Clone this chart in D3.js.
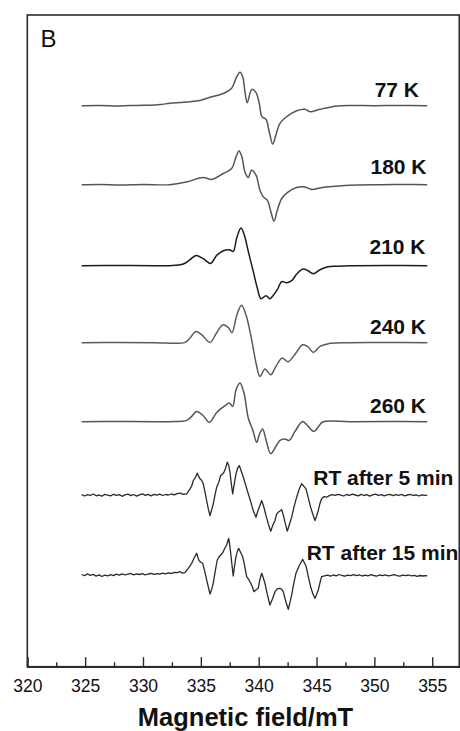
<!DOCTYPE html>
<html>
<head>
<meta charset="utf-8">
<script src="https://cdn.jsdelivr.net/npm/d3@7"></script>
<style>
body { margin: 0; background: #fff; }
text { font-family: "Liberation Sans", Arial, sans-serif; fill: #111; }
</style>
</head>
<body>
<script>
/**************************  data  **************************/

var traceNames = ["77 K", "180 K", "210 K", "240 K", "260 K", "RT after 5 min", "RT after 15 min"];
// vertical offset of each trace (a.u.)
var traceOffsets = [561, 482, 401, 324, 245, 171.5, 92];

var majorTicks = [320, 325, 330, 335, 340, 345, 350, 355];
var minorTicks = [322.5, 327.5, 332.5, 337.5, 342.5, 347.5, 352.5];

// [field (mT), signal (a.u.)]
var t77 = [[324.70, 0], [326.3, 0.2], [328.0, -0.2], [329.5, 0.3], [330.6, 0.5], [331.5, 1.2], [332.33, 2.4],
    [333.2, 3.2], [334.1, 4.0], [335.0, 5.5], [335.8, 8.4], [337.0, 12.4], [337.66, 17.4], [338.10, 29],
    [338.38, 33.4], [338.62, 29], [338.81, 14], [339.01, 3], [339.25, 12.4], [339.42, 16.4], [339.77, 13],
    [340.05, 2.4], [340.28, -11], [340.63, -13.6], [340.91, -26], [341.21, -38.3], [341.49, -29.3],
    [341.84, -17.6], [342.42, -11], [343.28, -5], [344.00, -3.6], [344.43, -6], [345.30, -3.6],
    [346.74, -0.3], [347.89, 0.3], [350.0, 0], [352.0, 0.2], [354.57, 0]];

var t180 = [[324.70, 0], [326.3, 0.3], [328.0, -0.2], [330.0, 0.3], [332.33, 0], [333.78, 2.8], [335.21, 7.2],
    [335.94, 5.2], [336.94, 11.2], [337.66, 16.2], [338.04, 27.8], [338.30, 33.8], [338.55, 27.8],
    [338.81, 12.8], [339.10, 7.2], [339.39, 14.5], [339.77, 9.5], [340.11, -5.5], [340.40, -12.2],
    [340.74, -15.5], [341.06, -27.2], [341.32, -36.5], [341.61, -25.5], [341.99, -13.8], [342.56, -7.2],
    [343.28, -2.8], [344.00, -2.2], [344.58, -4.8], [345.30, -3.2], [346.74, -1.5], [347.89, -0.5],
    [350.5, 0], [352.5, 0.2], [354.57, 0]];

var t210 = [[324.70, 0], [328.0, 0.2], [331.0, 0], [332.33, 0], [333.48, 1.7], [334.06, 6], [334.58, 10.3],
    [335.21, 7], [335.85, 2.3], [336.37, 10.3], [336.94, 15], [337.46, 16], [337.80, 14.3], [338.10, 27.7],
    [338.47, 37.6], [338.75, 31], [339.10, 14.3], [339.53, -5.7], [339.88, -22.3], [340.20, -33],
    [340.63, -30], [340.97, -33], [341.30, -29], [341.61, -24], [341.99, -16], [342.42, -17], [342.85, -15],
    [343.31, -8], [343.83, -3.3], [344.26, -5], [344.72, -8], [345.30, -4], [346.01, -1], [346.74, -0.5],
    [348.0, 0], [351.0, 0.2], [354.57, 0]];

var t240 = [[324.70, 0], [328.0, 0.2], [331.0, 0], [333.63, 0.3], [334.06, 4.7], [334.58, 11.3], [335.07, 8],
    [335.79, 0.3], [336.37, 10], [336.91, 18], [337.39, 15], [337.69, 10], [338.12, 28], [338.51, 37.5],
    [338.90, 28], [339.39, 3], [339.77, -20.3], [340.11, -33.7], [340.54, -26.3], [341.04, -32],
    [341.49, -23.7], [342.03, -15.3], [342.53, -19], [343.22, -10.3], [343.80, -2], [344.28, -4.3],
    [344.72, -9.7], [345.30, -3.7], [346.01, -1], [347.5, 0], [351.0, 0.2], [354.57, 0]];

var t260 = [[324.70, 0], [328.0, 0.2], [331.0, 0], [332.33, 0], [333.78, 1.3], [334.21, 5.3], [334.64, 10.3],
    [335.21, 6], [335.73, -0.7], [336.37, 9.3], [337.09, 16], [337.46, 18.7], [337.75, 15.3], [338.04, 32],
    [338.38, 38.7], [338.73, 28.7], [339.10, 3.7], [339.48, -8], [339.83, -20.7], [340.05, -13],
    [340.34, -7.3], [340.63, -18], [341.04, -32], [341.49, -24.7], [341.84, -18.7], [342.27, -17.3],
    [342.64, -18.7], [343.14, -9.7], [343.80, 0.3], [344.28, -4.7], [344.78, -9.7], [345.15, -5.3],
    [345.53, -0.3], [347.89, 0], [351.0, 0.2], [354.57, 0]];

var rt5 = [[324.70, 0.5], [324.95, -0.8], [325.20, 0.6], [325.45, -0.3], [325.70, 1.2], [325.95, -0.6],
    [326.20, 0.2], [326.45, -1.0], [326.70, 0.8], [326.95, 0.1], [327.20, -0.7], [327.45, 0.9], [327.70, -0.2],
    [327.95, 0.6], [328.20, -1.1], [328.45, 0.3], [328.70, 1.0], [328.95, -0.4], [329.20, 0.7], [329.45, -0.9],
    [329.70, 0.4], [329.95, 1.3], [330.20, -0.2], [330.45, 0.8], [330.70, -0.6], [330.95, 0.9], [331.20, 0.1],
    [331.45, 1.1], [331.70, -0.3], [331.95, 0.7], [332.20, 0.2], [332.45, 1.2], [332.70, 0.4], [332.95, 1.6],
    [333.20, 2], [333.50, 0.8], [333.78, 1.4], [334.06, 6.4], [334.22, 9.5], [334.35, 14.7], [334.52, 17.5],
    [334.69, 22], [334.80, 19], [334.93, 16.4], [335.07, 15], [335.21, 11.4], [335.36, 3], [335.50, -5.3],
    [335.65, -14], [335.79, -20.3], [335.93, -15], [336.07, -8.6], [336.22, 0], [336.37, 8], [336.55, 13],
    [336.71, 19.7], [336.85, 21], [337.00, 23], [337.14, 27], [337.28, 33], [337.40, 30], [337.52, 23],
    [337.63, 12], [337.75, 1.4], [337.90, 12], [338.04, 21.4], [338.18, 27], [338.32, 29.7], [338.50, 24],
    [338.67, 18], [338.88, 10], [339.10, 1.4], [339.30, -6], [339.48, -13.6], [339.62, -18], [339.77, -22],
    [339.92, -16], [340.05, -12], [340.26, -5.3], [340.45, -12], [340.63, -20.3], [340.84, -29],
    [341.04, -36], [341.22, -30], [341.41, -25.3], [341.55, -19], [341.69, -17], [341.99, -14.6],
    [342.13, -20], [342.27, -27], [342.47, -36], [342.66, -29], [342.85, -22], [343.05, -12], [343.28, -2],
    [343.50, 6], [343.71, 11.4], [343.90, 9], [344.09, 6.4], [344.29, -3], [344.49, -12], [344.68, -19],
    [344.86, -25.3], [345.00, -21], [345.15, -15.3], [345.30, -8], [345.44, -3.6], [345.65, -1.4],
    [345.87, -2], [346.10, -0.4], [346.35, 0.6], [346.60, -0.2], [346.85, 0.9], [347.10, 0.1], [347.35, -0.8],
    [347.60, 0.7], [347.85, -0.1], [348.10, 1.0], [348.35, 0.2], [348.60, -0.6], [348.85, 0.8], [349.10, -0.3],
    [349.35, 0.5], [349.60, -0.9], [349.85, 0.4], [350.10, 1.1], [350.35, -0.2], [350.60, 0.6], [350.85, -0.7],
    [351.10, 0.3], [351.35, 0.9], [351.60, -0.4], [351.85, 0.5], [352.10, -0.1], [352.35, 0.8], [352.60, -0.6],
    [352.85, 0.2], [353.10, 0.9], [353.35, -0.3], [353.60, 0.4], [353.85, -0.8], [354.10, 0.3], [354.35, -0.2],
    [354.57, 0.1]];

var rt15 = [[324.70, 0.2], [324.95, -1.0], [325.20, 0.8], [325.45, -0.6], [325.70, 0.3], [325.95, -1.4],
    [326.20, -0.2], [326.45, -1.8], [326.70, -0.5], [326.95, -1.2], [327.20, 0.1], [327.45, -0.9], [327.70, 0.5],
    [327.95, -0.4], [328.20, 0.9], [328.45, -0.3], [328.70, 0.6], [328.95, 1.2], [329.20, -0.1], [329.45, 0.8],
    [329.70, 0.2], [329.95, 1.0], [330.20, -0.2], [330.45, 0.7], [330.70, 1.4], [330.95, 0.3], [331.20, 1.1],
    [331.45, 0.5], [331.70, 1.6], [331.95, 0.9], [332.20, 1.8], [332.45, 1.2], [332.70, 2.4], [332.95, 2.0],
    [333.20, 3], [333.40, 1.6], [333.63, 2], [333.91, 6.4], [334.21, 11.4], [334.41, 16.4], [334.64, 21.4],
    [334.75, 17], [334.86, 14], [335.00, 12.5], [335.16, 11.4], [335.30, 5], [335.44, -2], [335.62, -11],
    [335.79, -19.3], [335.93, -15], [336.07, -8.6], [336.25, 4], [336.42, 14.7], [336.65, 19], [336.89, 22],
    [337.05, 26], [337.23, 29.7], [337.41, 36.4], [337.50, 29], [337.58, 21.4], [337.70, 9], [337.80, -1.3],
    [337.92, 9], [338.04, 18], [338.15, 23], [338.27, 26.4], [338.45, 22], [338.62, 18], [338.80, 8],
    [338.96, -2], [339.15, -5], [339.31, -8.6], [339.45, -12], [339.59, -17], [339.78, -15], [339.96, -13.6],
    [340.10, -5], [340.26, 1.4], [340.40, -3], [340.54, -8.6], [340.75, -20], [340.97, -30.3], [341.20, -24],
    [341.41, -17], [341.62, -14], [341.84, -13.6], [341.98, -14.5], [342.12, -17], [342.35, -27],
    [342.56, -34.6], [342.70, -28], [342.85, -20.3], [343.03, -9], [343.22, 1.4], [343.50, 9], [343.80, 15.4],
    [343.95, 12], [344.09, 8.7], [344.29, -2], [344.49, -12], [344.68, -19], [344.86, -23.6], [345.00, -20],
    [345.15, -15.3], [345.30, -8], [345.44, -2], [345.70, -1.2], [345.95, -0.5], [346.20, -1.4], [346.45, -0.3],
    [346.70, -1.1], [346.95, 0.2], [347.20, -0.8], [347.45, -1.5], [347.70, -0.4], [347.95, -1.0], [348.20, 0.1],
    [348.45, -0.9], [348.70, -0.2], [348.95, -1.3], [349.20, -0.5], [349.45, -1.1], [349.70, 0.0], [349.95, -0.8],
    [350.20, -1.4], [350.45, -0.3], [350.70, -1.0], [350.95, -0.2], [351.20, -1.2], [351.45, -0.6], [351.70, 0.1],
    [351.95, -0.9], [352.20, -1.5], [352.45, -0.4], [352.70, -1.0], [352.95, -0.3], [353.20, -1.2], [353.45, -0.7],
    [353.70, -1.6], [353.95, -0.8], [354.20, -1.3], [354.45, -0.9], [354.57, -1.1]];

var traces = [t77, t180, t210, t240, t260, rt5, rt15];

/**************************  chart  **************************/

var width = 460,
    height = 731;

var plotLeft = 27.3, plotRight = 459.3, plotTop = 15, plotBottom = 666.7;

var x = d3.scaleLinear().domain([320, 357.34]).range([plotLeft, plotRight]);
var y = d3.scaleLinear().domain([0, 651.7]).range([plotBottom, plotTop]);

var colors = ["#555", "#555", "#1c1c1c", "#5c5c5c", "#555", "#2a2a2a", "#2a2a2a"];
var noisy = [false, false, false, false, false, true, true];

// label placement (px): right edge for the K labels, left edge for the RT ones
var labelX = [419, 426.5, 425.5, 426, 426, 313.3, 306.7];
var labelDy = [-9, -10.3, -11.7, -9, -9, -10.7, -14.7];

var svg = d3.select("body").append("svg")
    .attr("width", width)
    .attr("height", height);

// frame
svg.append("rect")
    .attr("x", plotLeft)
    .attr("y", plotTop)
    .attr("width", plotRight - plotLeft)
    .attr("height", plotBottom - plotTop)
    .attr("fill", "none")
    .attr("stroke", "#2b2b2b")
    .attr("stroke-width", 1.6);

// bottom axis, ticks pointing inward
var axis = svg.append("g")
    .attr("transform", "translate(0," + plotBottom + ")")
    .call(d3.axisBottom(x).tickValues(majorTicks).tickSize(-9.5).tickPadding(13).tickFormat(d3.format("d")));
axis.select(".domain").attr("stroke", "#2b2b2b").attr("stroke-width", 1.6);
axis.selectAll(".tick line").attr("stroke", "#2b2b2b").attr("stroke-width", 1.4);
axis.selectAll(".tick text")
    .style("font-family", "'Liberation Sans', Arial, sans-serif")
    .style("font-size", "17.5px")
    .attr("fill", "#222");

svg.append("g")
    .attr("transform", "translate(0," + plotBottom + ")")
    .call(d3.axisBottom(x).tickValues(minorTicks).tickSize(-4.5).tickFormat(""))
    .call(function (g) {
        g.select(".domain").remove();
        g.selectAll(".tick line").attr("stroke", "#2b2b2b").attr("stroke-width", 1.4);
    });

svg.append("text")
    .attr("x", 245.5)
    .attr("y", 726)
    .attr("text-anchor", "middle")
    .style("font-size", "25.5px")
    .style("font-weight", "bold")
    .text("Magnetic field/mT");

svg.append("text")
    .attr("x", 40.5)
    .attr("y", 46.7)
    .style("font-size", "24px")
    .text("B");

// spectra
traces.forEach(function (data, i) {
    var line = d3.line()
        .x(function (d) { return x(d[0]); })
        .y(function (d) { return y(d[1] + traceOffsets[i]); })
        .curve(noisy[i] ? d3.curveLinear : d3.curveCatmullRom.alpha(0.5));

    svg.append("path")
        .datum(data)
        .attr("d", line)
        .attr("fill", "none")
        .attr("stroke", colors[i])
        .attr("stroke-width", noisy[i] ? 1.3 : 1.5)
        .attr("stroke-linejoin", "round");

    svg.append("text")
        .attr("x", labelX[i])
        .attr("y", y(traceOffsets[i]) + labelDy[i])
        .attr("text-anchor", noisy[i] ? "start" : "end")
        .style("font-size", "21px")
        .style("font-weight", "bold")
        .text(traceNames[i]);
});
</script>
</body>
</html>
